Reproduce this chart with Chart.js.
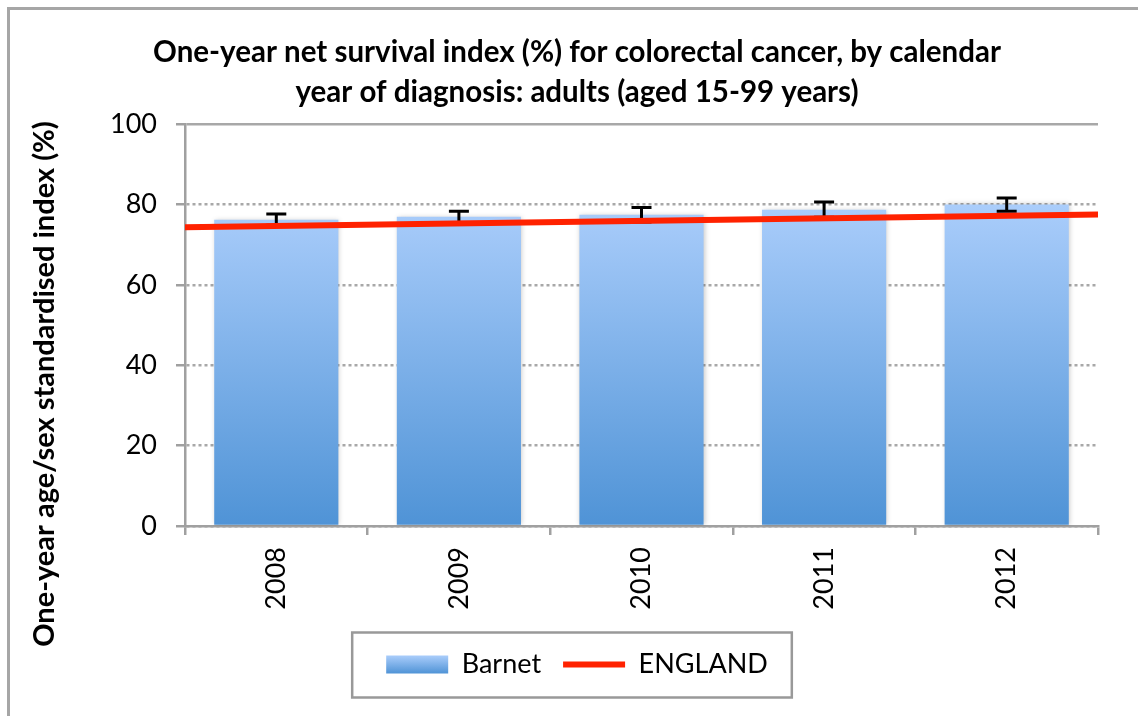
<!DOCTYPE html>
<html>
<head>
<meta charset="utf-8">
<script src="https://cdn.jsdelivr.net/npm/chart.js@4.4.0/dist/chart.umd.min.js"></script>
<style>
  html, body { margin: 0; padding: 0; background: #fff; overflow: hidden; }
  #wrap { position: relative; width: 1138px; height: 716px; }
  #frame { position: absolute; left: 7px; top: 7px; width: 1200px; height: 800px;
           border: 3px solid #a6a6a6; box-sizing: border-box; }
  canvas { position: absolute; left: 0; top: 0; }
</style>
</head>
<body>
<div id="wrap">
  <div id="frame"></div>
  <canvas id="myChart" width="1138" height="716"></canvas>
</div>
<script>
const years = ["2008", "2009", "2010", "2011", "2012"];
const barnet = [76.2, 76.9, 77.4, 78.7, 80.0];
const barnetLow = [74.8, 75.5, 75.6, 76.8, 78.3];
const barnetHigh = [77.6, 78.3, 79.2, 80.6, 81.6];
// england line runs edge to edge of the plot: value at left edge, value at right edge
const englandEnds = [74.3, 77.5];
const yTicks = [0, 20, 40, 60, 80, 100];

const yTitle = "One-year age/sex standardised index (%)";
const fontName = "Lato, 'Open Sans', sans-serif";

function barGradient(ctx, top, bottom) {
    var g = ctx.createLinearGradient(0, top, 0, bottom);
    g.addColorStop(0, "#aacdfb");
    g.addColorStop(1, "#4f93d6");
    return g;
}

const extras = {
    id: "extras",
    beforeDatasetDraw: function (chart, args) {
        if (args.index === 0) {
            const ctx = chart.ctx;
            ctx.save();
            ctx.shadowColor = "rgba(0,0,0,0.22)";
            ctx.shadowBlur = 5;
            ctx.shadowOffsetX = 1;
        }
    },
    afterDatasetDraw: function (chart, args) {
        if (args.index !== 0) return;
        const ctx = chart.ctx;
        ctx.restore();
        // error bars
        const meta = chart.getDatasetMeta(0);
        const y = chart.scales.y;
        ctx.save();
        ctx.strokeStyle = "#000";
        ctx.lineWidth = 3;
        for (var i = 0; i < years.length; i++) {
            var x = meta.data[i].x;
            var lo = y.getPixelForValue(barnetLow[i]);
            var hi = y.getPixelForValue(barnetHigh[i]);
            ctx.beginPath();
            ctx.moveTo(x, lo); ctx.lineTo(x, hi);
            ctx.moveTo(x - 10, lo); ctx.lineTo(x + 10, lo);
            ctx.moveTo(x - 10, hi); ctx.lineTo(x + 10, hi);
            ctx.stroke();
        }
        ctx.restore();
    },
    afterUpdate: function (chart) {
        const lg = chart.legend;
        if (lg && lg.legendHitBoxes && lg.legendHitBoxes.length) {
            for (var i = 0; i < lg.legendItems.length; i++) {
                if (lg.legendItems[i].datasetIndex === 0) {
                    const hb = lg.legendHitBoxes[i];
                    const cy = hb.top + hb.height / 2;
                    lg.legendItems[i].fillStyle = barGradient(chart.ctx, cy - 9, cy + 9);
                }
            }
        }
    },
    afterDraw: function (chart) {
        const ctx = chart.ctx;
        // y axis title
        ctx.save();
        ctx.translate(45, 384);
        ctx.rotate(-Math.PI / 2);
        ctx.font = "bold 29px " + fontName;
        ctx.fillStyle = "#000";
        ctx.textAlign = "center";
        ctx.textBaseline = "middle";
        ctx.fillText(yTitle, 0, 0);
        ctx.restore();
        // legend frame
        const lg = chart.legend;
        const boxes = lg.legendHitBoxes;
        const first = boxes[0], last = boxes[boxes.length - 1];
        const cy = first.top + first.height / 2;
        ctx.save();
        ctx.strokeStyle = "#999";
        ctx.lineWidth = 2.5;
        ctx.strokeRect(first.left - 34, cy - 32, last.left + last.width - first.left + 58, 65);
        ctx.restore();
    }
};

new Chart("myChart", {
    type: "bar",
    data: {
        labels: years,
        datasets: [{
            label: "Barnet",
            data: barnet,
            order: 2,
            grouped: false,
            backgroundColor: function (c) {
                const ch = c.chart;
                if (!ch.chartArea) return "#7fb0ea";
                return barGradient(ch.ctx, ch.scales.y.getPixelForValue(80), ch.scales.y.getPixelForValue(0));
            },
            borderWidth: 0,
            categoryPercentage: 1,
            barPercentage: 0.68,
            pointStyle: "rect"
        }, {
            type: "line",
            label: "ENGLAND",
            data: [{ x: 0, y: englandEnds[0] }, { x: 1, y: englandEnds[1] }],
            xAxisID: "xLine",
            order: 1,
            borderColor: "#ff2200",
            backgroundColor: "#ff2200",
            borderWidth: 6,
            borderCapStyle: "round",
            pointRadius: 0,
            pointStyle: "line",
            fill: false
        }]
    },
    options: {
        responsive: false,
        animation: false,
        layout: { padding: { left: 56, right: 40, top: 0, bottom: 28 } },
        plugins: {
            title: {
                display: true,
                text: ["One-year net survival index (%) for colorectal cancer, by calendar",
                       "year of diagnosis: adults (aged 15-99 years)"],
                color: "#000",
                font: { family: fontName, size: 29.5, weight: "bold", lineHeight: 40 / 29.5 },
                padding: { top: 32, bottom: 12 }
            },
            legend: {
                position: "bottom",
                labels: {
                    usePointStyle: true,
                    pointStyleWidth: 62,
                    boxHeight: 18,
                    color: "#000",
                    font: { family: fontName, size: 27 },
                    padding: 22,
                    sort: function (a, b) { return a.datasetIndex - b.datasetIndex; }
                }
            },
            tooltip: { enabled: false }
        },
        scales: {
            x: {
                offset: true,
                afterFit: function (s) { s.height = 103; },
                grid: {
                    offset: true,
                    drawOnChartArea: false,
                    drawTicks: true,
                    tickLength: 9,
                    color: "#a0a0a0",
                    lineWidth: 2.5
                },
                border: { display: true, color: "#a0a0a0", width: 2.5 },
                ticks: {
                    color: "#000",
                    font: { family: fontName, size: 27 },
                    minRotation: 90,
                    maxRotation: 90,
                    padding: 12
                }
            },
            xLine: {
                type: "linear",
                display: false,
                offset: false,
                grid: { offset: false },
                min: 0,
                max: 1
            },
            y: {
                min: 0,
                max: 100,
                afterBuildTicks: function (s) { s.ticks = yTicks.map(function (v) { return { value: v }; }); },
                afterFit: function (s) { s.width = 129; },
                grid: {
                    color: "#a8a8a8",
                    lineWidth: 2.5,
                    drawTicks: true,
                    tickLength: 9,
                    tickColor: "#a0a0a0",
                    tickWidth: 2.5
                },
                border: {
                    display: true,
                    color: "#a0a0a0",
                    width: 2.5,
                    dash: function (c) { return (c.tick && c.tick.value === 100) ? [] : [3, 3]; }
                },
                ticks: {
                    color: "#000",
                    font: { family: fontName, size: 27 },
                    padding: 19
                }
            }
        }
    },
    plugins: [extras]
});
</script>
</body>
</html>
